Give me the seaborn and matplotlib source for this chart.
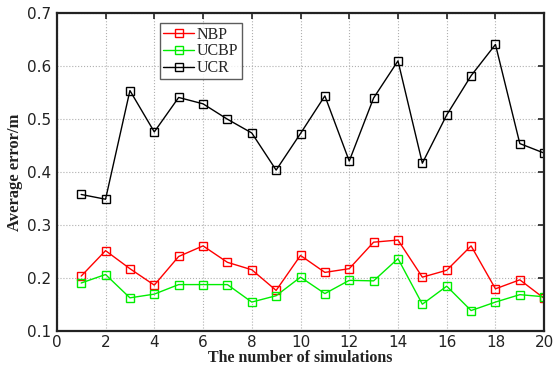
import matplotlib
matplotlib.use("Agg")
import matplotlib.pyplot as plt
import seaborn as sns
import pandas as pd

sims = list(range(1, 21))
nbp = [0.204, 0.252, 0.218, 0.187, 0.241, 0.261, 0.230, 0.216, 0.177, 0.243,
       0.211, 0.218, 0.268, 0.272, 0.202, 0.215, 0.261, 0.180, 0.197, 0.162]
ucbp = [0.191, 0.207, 0.163, 0.170, 0.188, 0.188, 0.188, 0.155, 0.167, 0.202,
        0.171, 0.196, 0.195, 0.237, 0.151, 0.185, 0.139, 0.155, 0.169, 0.165]
ucr = [0.358, 0.349, 0.554, 0.476, 0.541, 0.529, 0.500, 0.474, 0.404, 0.473,
       0.544, 0.421, 0.540, 0.610, 0.417, 0.508, 0.582, 0.641, 0.454, 0.436]
series_names = ["NBP", "UCBP", "UCR"]
colors = ["#ff0000", "#00ee00", "#000000"]
xticks = list(range(0, 21, 2))
yticks = [0.1, 0.2, 0.3, 0.4, 0.5, 0.6, 0.7]

sns.set_style("white")
fig = plt.figure(figsize=(5.57, 3.66), dpi=100)
ax = fig.add_axes([0.102, 0.095, 0.875, 0.869])

for name, vals, col in zip(series_names, [nbp, ucbp, ucr], colors):
    df = pd.DataFrame({"x": sims, "y": vals})
    sns.lineplot(data=df, x="x", y="y", ax=ax, color=col, linewidth=1.0,
                 marker="s", markersize=6, markerfacecolor="none",
                 markeredgecolor=col, markeredgewidth=1.0, label=name)

ax.set_xlim(0, 20)
ax.set_ylim(0.1, 0.7)
ax.set_xticks(xticks)
ax.set_yticks(yticks)
ax.set_xticklabels([str(t) for t in xticks])
ax.set_yticklabels([f"{t:.1f}" for t in yticks])
ax.grid(True, linestyle=":", color="#b0b0b0", linewidth=0.8)
ax.tick_params(direction="in", top=True, right=True, length=4, width=1.2,
               labelsize=11, colors="#222222", pad=4)
ax.tick_params(axis="x", pad=2.5)
for sp in ax.spines.values():
    sp.set_visible(True)
    sp.set_color("#222222")
    sp.set_linewidth(1.6)

ax.set_xlabel("The number of simulations", family="Liberation Serif",
              fontweight="bold", fontsize=11.5, labelpad=0, color="#222222")
ax.set_ylabel("Average error/m", family="Liberation Serif",
              fontweight="bold", fontsize=12, labelpad=3, color="#222222")

leg = ax.legend(loc="upper left", bbox_to_anchor=(0.212, 0.968),
                prop={"family": "Liberation Serif", "size": 11.5},
                frameon=True, fancybox=False, handlelength=1.9,
                borderpad=0.2, labelspacing=0.05, handletextpad=0.2,
                borderaxespad=0)
leg.get_frame().set_edgecolor("#333333")
leg.get_frame().set_linewidth(1.0)

fig.savefig("out.png", dpi=100)
